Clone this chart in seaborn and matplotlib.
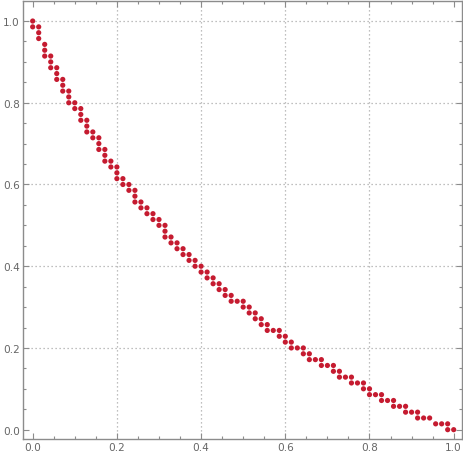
"""
Dotted staircase curve from (0, 1) down to (1, 0)
"""

import matplotlib
matplotlib.use("Agg")
import matplotlib.pyplot as plt
import seaborn as sns
import pandas as pd
import numpy as np
from matplotlib.ticker import MultipleLocator, FormatStrFormatter


## DATA (in steps of 1/70)
steps = 70
x_steps = [0, 0, 1, 1, 1, 2, 2, 2, 3, 3, 3, 4, 4, 4, 5, 5, 5, 6, 6, 6, 7, 7, 8, 8, 8, 9, 9, 9, 10, 10,
           11, 11, 11, 12, 12, 12, 13, 13, 14, 14, 14, 15, 15, 16, 16, 17, 17, 17, 18, 18, 19, 19, 20, 20, 21,
           21, 22, 22, 22, 23, 23, 24, 24, 25, 25, 26, 26, 27, 27, 28, 28, 29, 29, 30, 30, 31, 31, 32, 32, 33,
           33, 34, 35, 35, 36, 36, 37, 37, 38, 38, 39, 39, 40, 41, 41, 42, 42, 43, 43, 44, 45, 45, 46, 46, 47,
           48, 48, 49, 50, 50, 51, 51, 52, 53, 53, 54, 55, 55, 56, 56, 57, 58, 58, 59, 60, 60, 61, 62, 62, 63,
           64, 64, 65, 66, 67, 68, 69, 69, 70]
y_steps = [70, 69, 69, 68, 67, 66, 65, 64, 64, 63, 62, 62, 61, 60, 60, 59, 58, 58, 57, 56, 56, 55, 55, 54, 53, 53, 52, 51, 51, 50,
           50, 49, 48, 48, 47, 46, 46, 45, 45, 44, 43, 43, 42, 42, 41, 41, 40, 39, 39, 38, 38, 37, 37, 36, 36,
           35, 35, 34, 33, 33, 32, 32, 31, 31, 30, 30, 29, 29, 28, 28, 27, 27, 26, 26, 25, 25, 24, 24, 23, 23,
           22, 22, 22, 21, 21, 20, 20, 19, 19, 18, 18, 17, 17, 17, 16, 16, 15, 15, 14, 14, 14, 13, 13, 12, 12,
           12, 11, 11, 11, 10, 10, 9, 9, 9, 8, 8, 8, 7, 7, 6, 6, 6, 5, 5, 5, 4, 4, 4, 3, 3,
           3, 2, 2, 2, 1, 1, 1, 0, 0]
grid_x = [0.2, 0.4, 0.6, 0.8]
grid_y = [0.2, 0.4, 0.6, 0.8, 1.0]

dot_color = "#c51b30"
frame_color = "#8c8c8c"
label_color = "#666666"


def main():
  df = pd.DataFrame({"x": np.array(x_steps) / steps, "y": np.array(y_steps) / steps})

  sns.set_style("ticks")
  plt.rcParams["font.family"] = ["DejaVu Sans"]

  fig = plt.figure(figsize=(4.64, 4.56), dpi=100)
  ax = fig.add_axes([0.0502, 0.0351, 0.9461, 0.9605])

  # dotted grid first so the dots sit on top
  for gx in grid_x:
    ax.axvline(gx, color="#aaaaaa", lw=0.9, ls=(0, (1, 2.2)), zorder=0)
  for gy in grid_y:
    ax.axhline(gy, color="#aaaaaa", lw=0.9, ls=(0, (1, 2.2)), zorder=0)

  sns.scatterplot(data=df, x="x", y="y", ax=ax, color=dot_color, s=14,
                  linewidth=0, edgecolor="none", zorder=3, legend=False)

  ax.set_xlim(-0.0223, 1.0204)
  ax.set_ylim(-0.0228, 1.049)
  ax.set_xlabel("")
  ax.set_ylabel("")

  ax.xaxis.set_major_locator(MultipleLocator(0.2))
  ax.yaxis.set_major_locator(MultipleLocator(0.2))
  ax.xaxis.set_minor_locator(MultipleLocator(0.05))
  ax.yaxis.set_minor_locator(MultipleLocator(0.05))
  ax.xaxis.set_major_formatter(FormatStrFormatter("%.1f"))
  ax.yaxis.set_major_formatter(FormatStrFormatter("%.1f"))

  ax.tick_params(which="both", direction="in", top=True, right=True,
                 color=frame_color, width=0.8, labelcolor=label_color, labelsize=7.6, pad=2.5)
  ax.tick_params(which="major", length=4)
  ax.tick_params(which="minor", length=2.2)

  for sp in ax.spines.values():
    sp.set_color(frame_color)
    sp.set_linewidth(1.0)

  fig.savefig("out.png", dpi=100)


if __name__ == '__main__':
  main()
